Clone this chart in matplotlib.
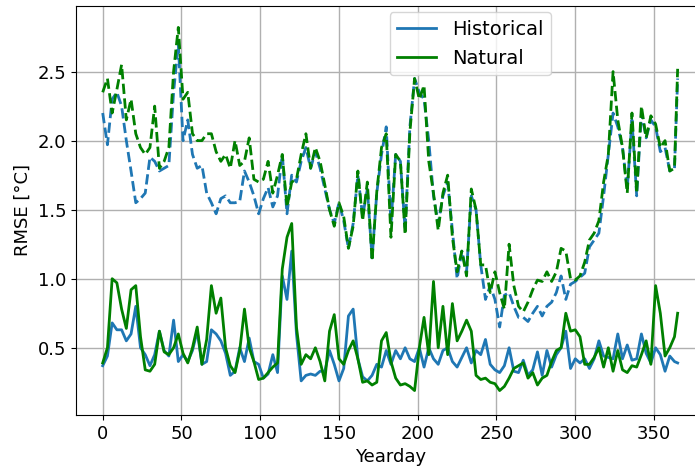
import numpy as np
import matplotlib
matplotlib.use("Agg")
import matplotlib.pyplot as plt

days = np.r_[np.arange(0, 364, 3), 365]

hist_solid = [
    0.37, 0.44, 0.68, 0.63, 0.63, 0.55, 0.60, 0.80, 0.50, 0.45,
    0.37, 0.45, 0.62, 0.48, 0.44, 0.70, 0.40, 0.45, 0.40, 0.48,
    0.62, 0.38, 0.40, 0.63, 0.60, 0.55, 0.46, 0.30, 0.33, 0.50,
    0.40, 0.57, 0.40, 0.38, 0.28, 0.31, 0.45, 0.32, 1.02, 0.85,
    1.20, 0.60, 0.26, 0.30, 0.31, 0.30, 0.33, 0.33, 0.48, 0.38,
    0.26, 0.35, 0.73, 0.78, 0.42, 0.29, 0.26, 0.30, 0.38, 0.36,
    0.48, 0.38, 0.48, 0.42, 0.50, 0.42, 0.40, 0.50, 0.36, 0.50,
    0.42, 0.38, 0.48, 0.50, 0.40, 0.36, 0.43, 0.50, 0.39, 0.48,
    0.45, 0.56, 0.38, 0.34, 0.32, 0.37, 0.50, 0.33, 0.32, 0.41,
    0.30, 0.34, 0.47, 0.30, 0.48, 0.36, 0.45, 0.50, 0.62, 0.35,
    0.42, 0.39, 0.42, 0.35, 0.42, 0.55, 0.44, 0.43, 0.42, 0.60,
    0.42, 0.52, 0.41, 0.42, 0.60, 0.46, 0.39, 0.50, 0.45, 0.33,
    0.44, 0.40, 0.39,
]

nat_solid = [
    0.39, 0.50, 1.00, 0.97, 0.78, 0.64, 0.92, 0.95, 0.58, 0.34,
    0.33, 0.38, 0.62, 0.47, 0.45, 0.50, 0.60, 0.46, 0.39, 0.50,
    0.65, 0.38, 0.56, 0.95, 0.75, 0.86, 0.50, 0.37, 0.32, 0.48,
    0.78, 0.50, 0.40, 0.27, 0.28, 0.32, 0.36, 0.39, 1.07, 1.30,
    1.40, 0.65, 0.38, 0.45, 0.42, 0.50, 0.40, 0.26, 0.62, 0.74,
    0.42, 0.38, 0.48, 0.55, 0.42, 0.25, 0.26, 0.23, 0.25, 0.55,
    0.61, 0.40, 0.28, 0.23, 0.24, 0.22, 0.19, 0.50, 0.72, 0.45,
    0.98, 0.50, 0.80, 0.45, 0.82, 0.55, 0.62, 0.70, 0.62, 0.30,
    0.27, 0.28, 0.25, 0.24, 0.19, 0.22, 0.28, 0.35, 0.37, 0.39,
    0.28, 0.32, 0.23, 0.28, 0.30, 0.40, 0.48, 0.50, 0.75, 0.62,
    0.63, 0.58, 0.38, 0.38, 0.43, 0.50, 0.36, 0.50, 0.33, 0.48,
    0.34, 0.32, 0.37, 0.36, 0.45, 0.55, 0.38, 0.95, 0.75, 0.44,
    0.50, 0.58, 0.75,
]

hist_dashed = [
    2.20, 1.97, 2.30, 2.35, 2.25, 2.00, 1.78, 1.55, 1.58, 1.62,
    1.88, 1.85, 1.78, 1.80, 1.82, 2.35, 2.70, 2.00, 2.15, 1.90,
    1.80, 1.82, 1.62, 1.55, 1.47, 1.58, 1.60, 1.55, 1.55, 1.56,
    1.78, 1.70, 1.60, 1.47, 1.58, 1.66, 1.52, 1.60, 1.90, 1.47,
    1.75, 1.70, 1.85, 1.95, 1.80, 1.92, 1.80, 1.65, 1.50, 1.40,
    1.55, 1.42, 1.22, 1.40, 1.75, 1.45, 1.65, 1.15, 1.62, 1.90,
    2.10, 1.40, 1.90, 1.85, 1.35, 2.10, 2.45, 2.35, 2.30, 2.00,
    1.60, 1.40, 1.60, 1.70, 1.35, 1.00, 1.20, 1.05, 1.60, 1.50,
    1.10, 0.85, 0.95, 0.85, 0.65, 0.88, 0.90, 0.80, 0.72, 0.72,
    0.69, 0.75, 0.80, 0.73, 0.80, 0.83, 0.90, 1.02, 0.85, 0.96,
    0.98, 1.01, 1.04, 1.23, 1.28, 1.33, 1.60, 1.90, 2.20, 2.10,
    1.95, 1.65, 2.15, 1.60, 2.20, 2.02, 2.15, 2.10, 1.92, 1.95,
    1.78, 1.80, 2.45,
]

nat_dashed = [
    2.35, 2.45, 2.20, 2.37, 2.55, 2.15, 2.30, 2.05, 1.95, 1.90,
    1.95, 2.25, 1.80, 1.85, 1.95, 2.50, 2.82, 2.30, 2.35, 2.05,
    2.00, 2.00, 2.05, 2.05, 1.92, 1.85, 1.90, 1.80, 2.00, 1.82,
    1.85, 2.02, 1.72, 1.70, 1.72, 1.85, 1.62, 1.75, 1.90, 1.52,
    1.70, 1.72, 1.90, 2.05, 1.80, 1.95, 1.85, 1.68, 1.50, 1.38,
    1.55, 1.45, 1.22, 1.38, 1.78, 1.42, 1.70, 1.13, 1.63, 1.95,
    2.05, 1.30, 1.90, 1.85, 1.32, 2.06, 2.45, 2.30, 2.40, 1.85,
    1.62, 1.35, 1.62, 1.75, 1.30, 1.05, 1.20, 1.02, 1.65, 1.50,
    1.10, 1.10, 0.90, 1.05, 0.90, 0.78, 1.25, 0.95, 0.80, 0.76,
    0.83, 0.92, 0.99, 0.98, 1.05, 0.98, 1.05, 1.22, 1.20, 1.00,
    0.99, 1.02, 1.12, 1.28, 1.33, 1.42, 1.70, 1.90, 2.50, 2.15,
    1.95, 1.62, 2.20, 1.62, 2.25, 2.02, 2.18, 2.12, 1.95, 2.00,
    1.78, 1.80, 2.52,
]

FS = 13
fig = plt.figure(figsize=(6.95, 4.69), dpi=100)
ax = fig.add_axes([76 / 695, 54 / 469, 630 / 695, 409 / 469])

ax.plot(days, hist_solid, color="#1f77b4", lw=2, label="Historical")
ax.plot(days, nat_solid, color="green", lw=2, label="Natural")
ax.plot(days, hist_dashed, color="#1f77b4", lw=2, ls="--")
ax.plot(days, nat_dashed, color="green", lw=2, ls="--")

ax.set_xlim(-16.95, 383.0)
ax.set_ylim(0.013, 2.975)
ax.set_xticks([0, 50, 100, 150, 200, 250, 300, 350])
ax.set_yticks([0.5, 1.0, 1.5, 2.0, 2.5])
ax.grid(True, color="#b0b0b0", lw=1)
ax.tick_params(labelsize=FS)
ax.set_xlabel("Yearday", fontsize=FS)
ax.set_ylabel("RMSE [°C]", fontsize=FS)

ax.legend(loc="upper right", bbox_to_anchor=(0.754, 0.985),
          borderaxespad=0, fontsize=14)

fig.savefig("out.png", dpi=100)
